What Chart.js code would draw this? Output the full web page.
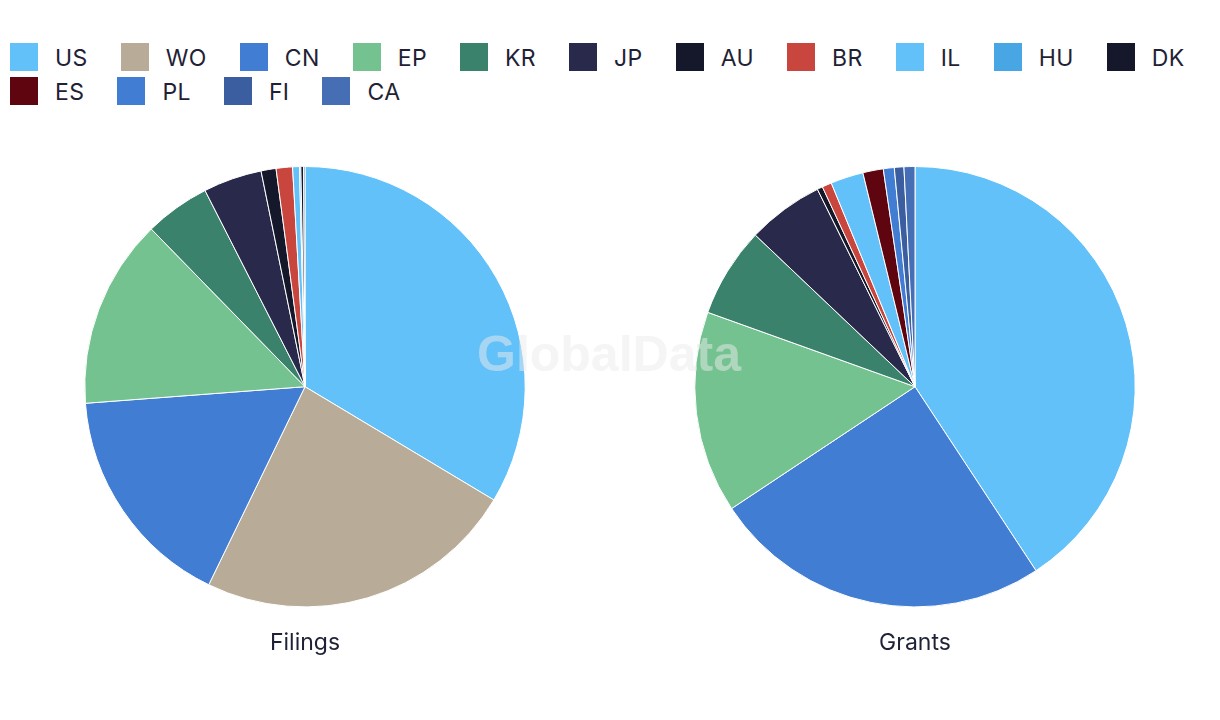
<!DOCTYPE html>
<html>
<head>
<meta charset="utf-8">
<script src="https://cdn.jsdelivr.net/npm/chart.js@4.4.1/dist/chart.umd.min.js"></script>
<style>
  html, body { margin: 0; padding: 0; background: #fff; }
  body { width: 1220px; height: 720px; position: relative; overflow: hidden; font-family: Inter, "Noto Sans", sans-serif; }
  #legenda { position: absolute; left: 10px; top: 43px; width: 1235px; display: flex; flex-wrap: wrap; }
  .item { display: flex; align-items: center; height: 28px; margin: 0 33px 6px 0; }
  .caixa { width: 28px; height: 28px; margin-right: 17px; }
  .texto { font-size: 23px; color: #1f2235; line-height: 28px; letter-spacing: 0.4px; position: relative; top: 1px; }
  .pizza { position: absolute; top: 166px; width: 610px; height: 500px; }
  #marca { position: absolute; left: 477px; top: 325px; font: bold 50px "Liberation Sans", Arial, sans-serif;
           color: rgba(236,236,236,0.5); pointer-events: none; }
</style>
</head>
<body>
<div id="legenda"></div>
<div class="pizza" style="left:0"><canvas id="graficoDepositos"></canvas></div>
<div class="pizza" style="left:610px"><canvas id="graficoConcessoes"></canvas></div>
<div id="marca">GlobalData</div>

<script>
// categorias (códigos de país / escritório)
const categorias = ['US', 'WO', 'CN', 'EP', 'KR', 'JP', 'AU', 'BR', 'IL', 'HU', 'DK', 'ES', 'PL', 'FI', 'CA'];
// valores (aprox., por mil)
const depositos = [336, 236, 166, 139, 48, 43, 11, 12, 5, 1, 2, 0, 0, 0, 1];
const concessoes = [407, 0, 249, 148, 66, 56, 4, 7, 24, 0, 0, 15, 8, 7, 8];
const titulos = ['Filings', 'Grants'];

const cores = ['#62C1F9', '#B8AB98', '#427DD4', '#73C290', '#3A826B', '#28294B', '#15182B',
  '#C8463E', '#62C1F9', '#48A6E4', '#15182B', '#5F0510', '#427DD4', '#3A5E9F', '#456EB5'];

// legenda em HTML
const leg = document.getElementById('legenda');
categorias.forEach((c, i) => {
  const el = document.createElement('div');
  el.className = 'item';
  el.innerHTML = `<div class="caixa" style="background:${cores[i]}"></div><span class="texto">${c}</span>`;
  leg.appendChild(el);
});

function pizza(id, dados, titulo) {
  return new Chart(document.getElementById(id), {
    type: 'pie',
    data: {
      labels: categorias,
      datasets: [{
        data: dados,
        backgroundColor: cores,
        borderColor: '#fff',
        borderWidth: 1
      }]
    },
    options: {
      responsive: true,
      maintainAspectRatio: false,
      animation: false,
      layout: { padding: 0 },
      plugins: {
        legend: { display: false },
        tooltip: { enabled: false },
        title: {
          display: true,
          position: 'bottom',
          text: titulo,
          color: '#1f2235',
          font: { family: 'Inter', size: 23, weight: 'normal' },
          padding: { top: 22, bottom: 9 }
        }
      }
    }
  });
}

pizza('graficoDepositos', depositos, titulos[0]);
pizza('graficoConcessoes', concessoes, titulos[1]);
</script>
</body>
</html>
